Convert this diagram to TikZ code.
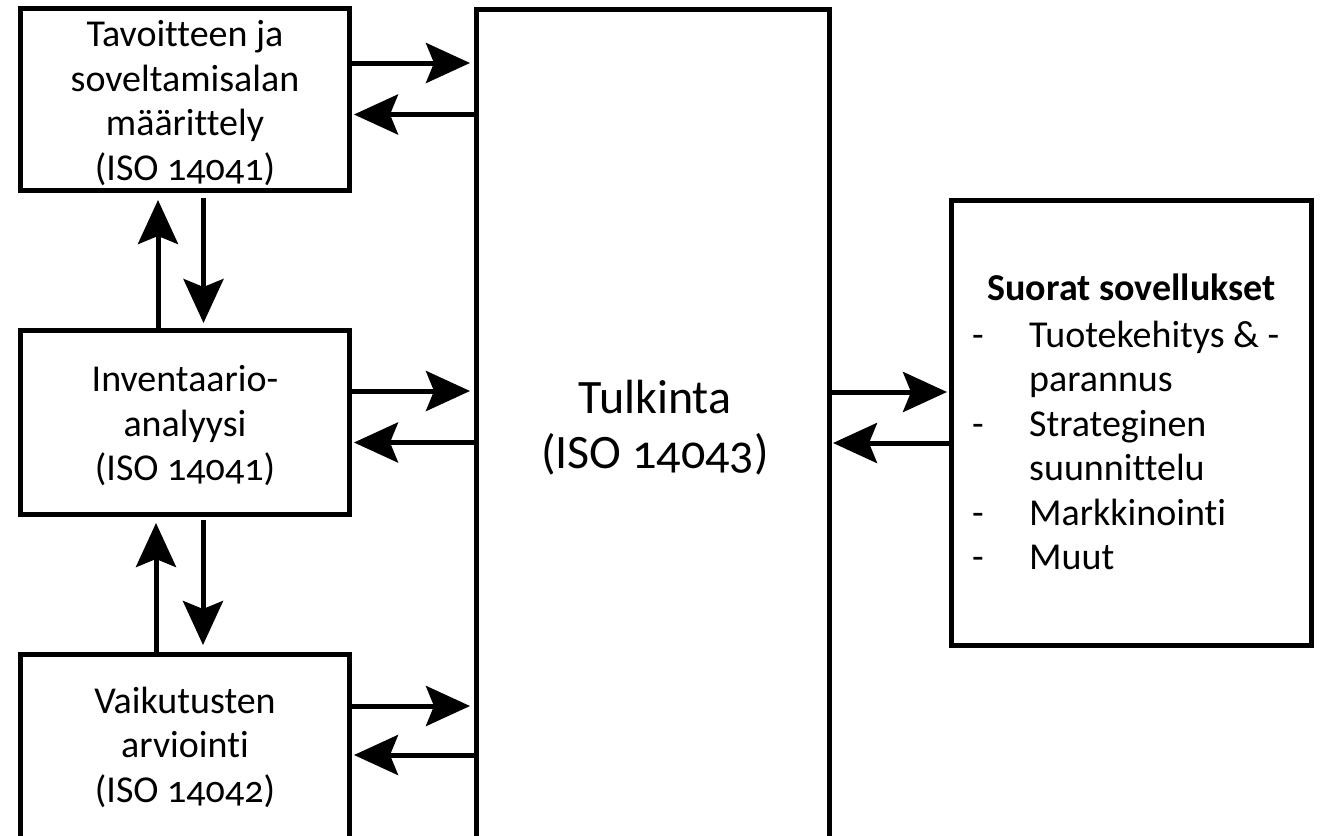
\documentclass[tikz,border=0pt]{standalone}
\usepackage{fontspec}
\setmainfont{Carlito}[Numbers=OldStyle, Ligatures=NoCommon]
\usetikzlibrary{arrows.meta}
\tikzset{
  box/.style={draw, line width=5pt, inner sep=0pt},
  arr/.style={line width=5pt, -{Stealth[length=44pt,width=40pt,inset=8pt]}},
  txt/.style={inner sep=0pt, anchor=base, font=\fontsize{38}{44.5}\selectfont},
}
\begin{document}
\begin{tikzpicture}[x=1pt,y=-1pt]
\useasboundingbox (0,0) rectangle (1343,835);
\begin{scope}
\clip (0,0) rectangle (1343,835);
\fill[white] (0,0) rectangle (1343,835);
% boxes
\node[box, minimum width=329pt, minimum height=182pt] (A) at (185,99.5) {};
\node[box, minimum width=329pt, minimum height=184pt] (B) at (185,422.5) {};
\node[box, minimum width=329pt, minimum height=191pt] (C) at (185,750) {};
\node[box, minimum width=353pt, minimum height=838pt] (T) at (653,428) {};
\node[box, minimum width=360pt, minimum height=444.5pt] (S) at (1131.5,423) {};
% texts
\node[txt] (At) at (185,46.7) {\begin{tabular}[t]{@{}c@{}}Tavoitteen ja\\soveltamisalan\\määrittely\\(ISO 14041)\end{tabular}};
\node[txt] (Bt) at (185,391.5) {\begin{tabular}[t]{@{}c@{}}Inventaario-\\analyysi\\(ISO 14041)\end{tabular}};
\node[txt] (Ct) at (185,713) {\begin{tabular}[t]{@{}c@{}}Vaikutusten\\arviointi\\(ISO 14042)\end{tabular}};
\node[txt, font=\fontsize{48}{55}\selectfont] (Tt) at (655,413) {\begin{tabular}[t]{@{}c@{}}Tulkinta\\(ISO 14043)\end{tabular}};
\node[txt, font=\bfseries\fontsize{38}{44.5}\selectfont] (St) at (1131.5,300) {Suorat sovellukset};
\node[txt, anchor=base west] (Sl) at (972,347) {\begin{tabular}[t]{@{}p{57pt}@{}l@{}}
-&Tuotekehitys \& -\\
&parannus\\
-&Strateginen\\
&suunnittelu\\
-&Markkinointi\\
-&Muut
\end{tabular}};
% helper coordinates
\coordinate (ya1) at (0,63);
\coordinate (ya2) at (0,114.5);
\coordinate (yb1) at (0,391);
\coordinate (yb2) at (0,442.5);
\coordinate (yc1) at (0,706);
\coordinate (yc2) at (0,755);
\coordinate (ys1) at (0,392);
\coordinate (ys2) at (0,443);
\coordinate (xab1) at (158,0);
\coordinate (xab2) at (203.5,0);
\coordinate (xbc1) at (156,0);
\coordinate (xbc2) at (203,0);
% horizontal arrows
\draw[arr, shorten >=4pt] (A.east |- ya1) -- (T.west |- ya1);
\draw[arr, shorten >=2pt] (T.west |- ya2) -- (A.east |- ya2);
\draw[arr, shorten >=4pt] (B.east |- yb1) -- (T.west |- yb1);
\draw[arr, shorten >=2pt] (T.west |- yb2) -- (B.east |- yb2);
\draw[arr, shorten >=4pt] (C.east |- yc1) -- (T.west |- yc1);
\draw[arr, shorten >=2pt] (T.west |- yc2) -- (C.east |- yc2);
\draw[arr, shorten >=2pt] (T.east |- ys1) -- (S.west |- ys1);
\draw[arr, shorten >=1pt] (S.west |- ys2) -- (T.east |- ys2);
% vertical arrows
\draw[arr, shorten >=7pt] (B.north -| xab1) -- (A.south -| xab1);
\draw[arr, shorten >=5pt, shorten <=5pt] (A.south -| xab2) -- (B.north -| xab2);
\draw[arr, shorten >=6pt] (C.north -| xbc1) -- (B.south -| xbc1);
\draw[arr, shorten >=7pt, shorten <=3pt] (B.south -| xbc2) -- (C.north -| xbc2);
\end{scope}
\end{tikzpicture}
\end{document}
